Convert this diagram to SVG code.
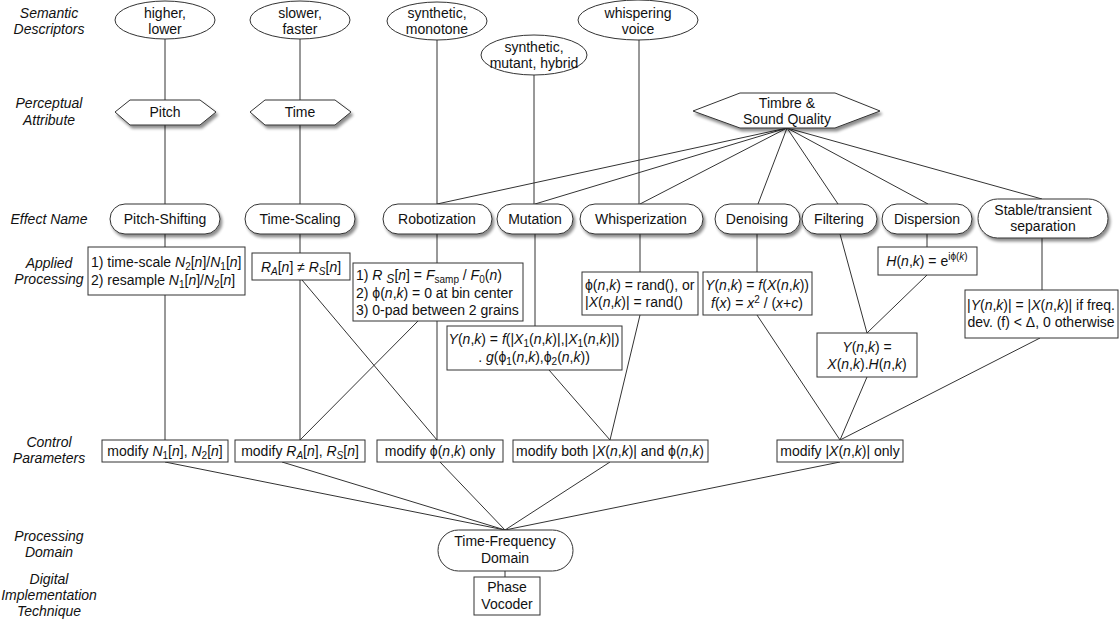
<svg xmlns="http://www.w3.org/2000/svg" width="1120" height="619" viewBox="0 0 1120 619">
<style>
text{font-family:"Liberation Sans",Arial,sans-serif;font-size:14px;fill:#111}
.lbl{font-style:italic;text-anchor:middle}
.c{text-anchor:middle}
.i{font-style:italic}
.s{font-size:10px}
.e{stroke:#333;stroke-width:1;fill:none}
.b{fill:#fff;stroke:#333;stroke-width:1}
</style>
<defs>
<filter id="sh" x="-20%" y="-30%" width="150%" height="180%">
<feGaussianBlur in="SourceAlpha" stdDeviation="1.6"/>
<feOffset dx="2" dy="3" result="o"/>
<feComponentTransfer><feFuncA type="linear" slope="0.45"/></feComponentTransfer>
<feMerge><feMergeNode/><feMergeNode in="SourceGraphic"/></feMerge>
</filter>
</defs>
<rect width="1120" height="619" fill="#fff"/>
<g id="row-labels">
<text class="lbl" x="49" y="18">Semantic</text><text class="lbl" x="49" y="34">Descriptors</text>
<text class="lbl" x="49" y="108">Perceptual</text><text class="lbl" x="49" y="125">Attribute</text>
<text class="lbl" x="49" y="224">Effect Name</text>
<text class="lbl" x="49" y="268">Applied</text><text class="lbl" x="49" y="284">Processing</text>
<text class="lbl" x="49" y="447">Control</text><text class="lbl" x="49" y="463">Parameters</text>
<text class="lbl" x="49" y="541">Processing</text><text class="lbl" x="49" y="557">Domain</text>
<text class="lbl" x="49" y="584">Digital</text><text class="lbl" x="49" y="600">Implementation</text><text class="lbl" x="49" y="616">Technique</text>
</g>
<g id="connectors">
<path class="e" d="M165 38V100M300 38V100M165 125V204M300 125V204M165 234V247M300 234V253M165 295V440M300 280V440"/>
<path class="e" d="M302 280L437 440M419 320L300 440M437 40V204M437 234V264M437 320V440"/>
<path class="e" d="M534 75V204M535 234V326M549 370L610 440M639 40V204M640 234V272M640 315L610 440"/>
<path class="e" d="M787 128L437 204M787 128L535 204M787 128L640 204M787 128L758 204M787 128L838 204M787 128L928 204M787 128L1042 199"/>
<path class="e" d="M757 234V272M757 315L840 440M840 234L867 333M927 234V247M927 275L867 333M867 377L840 440M1042 238V290M1040 338L840 440"/>
<path class="e" d="M165 462L505 530M282 462L505 530M440 462L505 530M610 462L505 530M840 462L505 530M505 571V577"/>
</g>
<g id="sem-pitch"><ellipse class="b" cx="165" cy="20" rx="50" ry="19"/><text class="c" x="165" y="18">higher,</text><text class="c" x="165" y="34">lower</text></g>
<g id="sem-time"><ellipse class="b" cx="300" cy="20" rx="50" ry="19"/><text class="c" x="300" y="18">slower,</text><text class="c" x="300" y="34">faster</text></g>
<g id="sem-robot"><ellipse class="b" cx="437" cy="21" rx="50" ry="19"/><text class="c" x="437" y="18">synthetic,</text><text class="c" x="437" y="34">monotone</text></g>
<g id="sem-mutant"><ellipse class="b" cx="534" cy="55" rx="53" ry="20"/><text class="c" x="534" y="52">synthetic,</text><text class="c" x="534" y="68">mutant, hybrid</text></g>
<g id="sem-whisper"><ellipse class="b" cx="638" cy="20" rx="60" ry="20"/><text class="c" x="638" y="18">whispering</text><text class="c" x="638" y="34">voice</text></g>
<g id="attr-pitch"><polygon class="b" filter="url(#sh)" points="115,112 130,100 200,100 216,112 200,125 130,125"/><text class="c" x="165" y="117">Pitch</text></g>
<g id="attr-time"><polygon class="b" filter="url(#sh)" points="250,112 265,100 335,100 351,112 335,125 265,125"/><text class="c" x="300" y="117">Time</text></g>
<g id="attr-timbre"><polygon class="b" filter="url(#sh)" points="693,111 740,93 835,93 880,111 835,128 740,128"/><text class="c" x="787" y="108">Timbre &amp;</text><text class="c" x="787" y="124">Sound Quality</text></g>
<g id="fx-pitch"><rect class="b" filter="url(#sh)" x="110" y="204" width="110" height="30" rx="15"/><text class="c" x="165" y="224">Pitch-Shifting</text></g>
<g id="fx-time"><rect class="b" filter="url(#sh)" x="245" y="204" width="110" height="30" rx="15"/><text class="c" x="300" y="224">Time-Scaling</text></g>
<g id="fx-robot"><rect class="b" filter="url(#sh)" x="383" y="204" width="109" height="30" rx="15"/><text class="c" x="437" y="224">Robotization</text></g>
<g id="fx-mutation"><rect class="b" filter="url(#sh)" x="497" y="204" width="76" height="30" rx="15"/><text class="c" x="535" y="224">Mutation</text></g>
<g id="fx-whisper"><rect class="b" filter="url(#sh)" x="580" y="204" width="123" height="30" rx="15"/><text class="c" x="641" y="224">Whisperization</text></g>
<g id="fx-denoise"><rect class="b" filter="url(#sh)" x="715" y="204" width="85" height="30" rx="15"/><text class="c" x="757" y="224">Denoising</text></g>
<g id="fx-filter"><rect class="b" filter="url(#sh)" x="802" y="204" width="75" height="30" rx="15"/><text class="c" x="839" y="224">Filtering</text></g>
<g id="fx-dispersion"><rect class="b" filter="url(#sh)" x="882" y="204" width="90" height="30" rx="15"/><text class="c" x="927" y="224">Dispersion</text></g>
<g id="fx-stable"><rect class="b" filter="url(#sh)" x="978" y="199" width="130" height="39" rx="19.5"/><text class="c" x="1043" y="215">Stable/transient</text><text class="c" x="1043" y="231">separation</text></g>
<g id="ap-pitch"><rect class="b" x="88" y="247" width="157" height="48"/>
<text x="91" y="267">1) time-scale <tspan class="i">N</tspan><tspan class="s" dy="3">2</tspan><tspan dy="-3">[</tspan><tspan class="i">n</tspan>]/<tspan class="i">N</tspan><tspan class="s" dy="3">1</tspan><tspan dy="-3">[</tspan><tspan class="i">n</tspan>]</text>
<text x="91" y="285">2) resample <tspan class="i">N</tspan><tspan class="s" dy="3">1</tspan><tspan dy="-3">[</tspan><tspan class="i">n</tspan>]/<tspan class="i">N</tspan><tspan class="s" dy="3">2</tspan><tspan dy="-3">[</tspan><tspan class="i">n</tspan>]</text></g>
<g id="ap-time"><rect class="b" x="252" y="253" width="98" height="27"/>
<text class="c" x="301" y="272"><tspan class="i">R</tspan><tspan class="s i" dy="3">A</tspan><tspan dy="-3">[</tspan><tspan class="i">n</tspan>] ≠ <tspan class="i">R</tspan><tspan class="s i" dy="3">S</tspan><tspan dy="-3">[</tspan><tspan class="i">n</tspan>]</text></g>
<g id="ap-robot"><rect class="b" x="353" y="263" width="170" height="58"/>
<text x="356" y="280">1) <tspan class="i">R</tspan> <tspan class="i" dy="3" style="font-size:12px">S</tspan><tspan dy="-3">[</tspan><tspan class="i">n</tspan>] = <tspan class="i">F</tspan><tspan class="s" dy="3">samp</tspan><tspan dy="-3"> / </tspan><tspan class="i">F</tspan><tspan class="s" dy="3">0</tspan><tspan dy="-3">(</tspan><tspan class="i">n</tspan>)</text>
<text x="356" y="298">2) ϕ(<tspan class="i">n</tspan>,<tspan class="i">k</tspan>) = 0 at bin center</text>
<text x="356" y="315">3) 0-pad between 2 grains</text></g>
<g id="ap-whisper"><rect class="b" x="582" y="272" width="116" height="43"/>
<text x="585" y="290">ϕ(<tspan class="i">n</tspan>,<tspan class="i">k</tspan>) = rand(), or</text>
<text x="585" y="307">|<tspan class="i">X</tspan>(<tspan class="i">n</tspan>,<tspan class="i">k</tspan>)| = rand()</text></g>
<g id="ap-denoise"><rect class="b" x="703" y="272" width="109" height="43"/>
<text class="c" x="757" y="290"><tspan class="i">Y</tspan>(<tspan class="i">n</tspan>,<tspan class="i">k</tspan>) = <tspan class="i">f</tspan>(<tspan class="i">X</tspan>(<tspan class="i">n</tspan>,<tspan class="i">k</tspan>))</text>
<text class="c" x="757" y="308"><tspan class="i">f</tspan>(<tspan class="i">x</tspan>) = <tspan class="i">x</tspan><tspan class="s" dy="-5">2</tspan><tspan dy="5"> / (</tspan><tspan class="i">x</tspan>+<tspan class="i">c</tspan>)</text></g>
<g id="ap-dispersion"><rect class="b" x="878" y="247" width="99" height="28"/>
<text class="c" x="927" y="266"><tspan class="i">H</tspan>(<tspan class="i">n</tspan>,<tspan class="i">k</tspan>) = e<tspan class="s" dy="-6">iϕ(<tspan class="i">k</tspan>)</tspan></text></g>
<g id="ap-stable"><rect class="b" x="965" y="290" width="153" height="48"/>
<text class="c" x="1041" y="310">|<tspan class="i">Y</tspan>(<tspan class="i">n</tspan>,<tspan class="i">k</tspan>)| = |<tspan class="i">X</tspan>(<tspan class="i">n</tspan>,<tspan class="i">k</tspan>)| if freq.</text>
<text class="c" x="1041" y="327">dev. (f) &lt; Δ, 0 otherwise</text></g>
<g id="ap-mutation"><rect class="b" x="447" y="326" width="175" height="44"/>
<text class="c" x="534" y="344"><tspan class="i">Y</tspan>(<tspan class="i">n</tspan>,<tspan class="i">k</tspan>) = <tspan class="i">f</tspan>(|<tspan class="i">X</tspan><tspan class="s" dy="3">1</tspan><tspan dy="-3">(</tspan><tspan class="i">n</tspan>,<tspan class="i">k</tspan>)|,|<tspan class="i">X</tspan><tspan class="s" dy="3">1</tspan><tspan dy="-3">(</tspan><tspan class="i">n</tspan>,<tspan class="i">k</tspan>)|)</text>
<text class="c" x="534" y="362">. <tspan class="i">g</tspan>(ϕ<tspan class="s" dy="3">1</tspan><tspan dy="-3">(</tspan><tspan class="i">n</tspan>,<tspan class="i">k</tspan>),ϕ<tspan class="s" dy="3">2</tspan><tspan dy="-3">(</tspan><tspan class="i">n</tspan>,<tspan class="i">k</tspan>))</text></g>
<g id="ap-filter"><rect class="b" x="817" y="333" width="100" height="44"/>
<text class="c" x="867" y="352"><tspan class="i">Y</tspan>(<tspan class="i">n</tspan>,<tspan class="i">k</tspan>) =</text>
<text class="c" x="867" y="369"><tspan class="i">X</tspan>(<tspan class="i">n</tspan>,<tspan class="i">k</tspan>).<tspan class="i">H</tspan>(<tspan class="i">n</tspan>,<tspan class="i">k</tspan>)</text></g>
<g id="cp-pitch"><rect class="b" x="102" y="440" width="126" height="22"/><text class="c" x="165" y="456">modify <tspan class="i">N</tspan><tspan class="s" dy="3">1</tspan><tspan dy="-3">[</tspan><tspan class="i">n</tspan>], <tspan class="i">N</tspan><tspan class="s" dy="3">2</tspan><tspan dy="-3">[</tspan><tspan class="i">n</tspan>]</text></g>
<g id="cp-time"><rect class="b" x="235" y="440" width="130" height="22"/><text class="c" x="300" y="456">modify <tspan class="i">R</tspan><tspan class="s i" dy="3">A</tspan><tspan dy="-3">[</tspan><tspan class="i">n</tspan>], <tspan class="i">R</tspan><tspan class="s i" dy="3">S</tspan><tspan dy="-3">[</tspan><tspan class="i">n</tspan>]</text></g>
<g id="cp-phase"><rect class="b" x="377" y="440" width="126" height="22"/><text class="c" x="440" y="456">modify ϕ(<tspan class="i">n</tspan>,<tspan class="i">k</tspan>) only</text></g>
<g id="cp-both"><rect class="b" x="513" y="440" width="195" height="22"/><text class="c" x="610" y="456">modify both |<tspan class="i">X</tspan>(<tspan class="i">n</tspan>,<tspan class="i">k</tspan>)| and ϕ(<tspan class="i">n</tspan>,<tspan class="i">k</tspan>)</text></g>
<g id="cp-mag"><rect class="b" x="777" y="440" width="126" height="22"/><text class="c" x="840" y="456">modify |<tspan class="i">X</tspan>(<tspan class="i">n</tspan>,<tspan class="i">k</tspan>)| only</text></g>
<g id="tf-domain"><rect class="b" x="438" y="530" width="135" height="41" rx="20.5"/><text class="c" x="505" y="546">Time-Frequency</text><text class="c" x="505" y="563">Domain</text></g>
<g id="phase-vocoder"><rect class="b" x="474" y="577" width="66" height="38"/><text class="c" x="507" y="592">Phase</text><text class="c" x="507" y="609">Vocoder</text></g>
</svg>
